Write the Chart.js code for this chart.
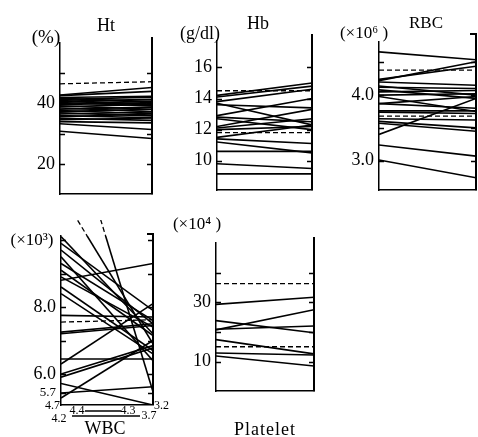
<!DOCTYPE html>
<html>
<head>
<meta charset="utf-8">
<script src="https://cdn.jsdelivr.net/npm/chart.js@4/dist/chart.umd.min.js"></script>
<style>
  body { margin: 0; background: #fff; }
  #fig { position: relative; width: 478px; height: 437px; overflow: hidden;
         font-family: "Liberation Serif", "DejaVu Serif", serif; color: #000; }
  canvas { position: absolute; }
  .t { position: absolute; transform: translate(-50%, -50%); white-space: nowrap; line-height: 1; }
</style>
</head>
<body>
<div id="fig">
  <canvas id="ht"></canvas>
  <canvas id="hb"></canvas>
  <canvas id="rbc"></canvas>
  <canvas id="wbc"></canvas>
  <canvas id="plt"></canvas>

  <div class="t" style="left:106px;top:25px;font-size:18px">Ht</div>
  <div class="t" style="left:46px;top:36px;font-size:19px">(%)</div>
  <div class="t" style="left:258px;top:23px;font-size:18px">Hb</div>
  <div class="t" style="left:200px;top:33px;font-size:18px">(g/dl)</div>
  <div class="t" style="left:426px;top:22px;font-size:17px">RBC</div>
  <div class="t" style="left:364px;top:32px;font-size:17px">(×10⁶ )</div>
  <div class="t" style="left:32px;top:239px;font-size:17px">(×10³)</div>
  <div class="t" style="left:197px;top:223px;font-size:17px">(×10⁴ )</div>
  <div class="t" style="left:105px;top:428px;font-size:18px">WBC</div>
  <div class="t" style="left:265px;top:429px;font-size:18px;letter-spacing:1px">Platelet</div>
</div>

<script>
// Ht (%) : before / after
const htBefore = [42.8, 42.6, 42.0, 41.7, 41.3, 41.0, 40.7, 40.3, 40.0, 39.6, 39.2, 38.9, 38.5,
                  38.1, 37.7, 37.3, 36.9, 36.5, 36.0, 35.6, 35.1, 34.6, 34.0, 33.3, 30.8];
const htAfter  = [45.3, 44.0, 42.4, 40.6, 42.1, 39.8, 41.4, 39.2, 40.8, 40.3, 38.1, 39.7, 37.3,
                  38.8, 36.6, 38.1, 35.9, 37.2, 35.3, 36.5, 34.4, 35.2, 33.6, 31.4, 28.4];
const htDashBefore = [46.5];
const htDashAfter  = [47.2];
const htTicks  = [20, 30, 40, 50];
const htLabels = [20, 40];

// Hb (g/dl)
const hbBefore = [14.2, 14.1, 13.8, 13.7, 13.6, 12.9, 12.8, 12.7, 12.2, 12.1, 12.0, 11.5, 11.4, 11.2, 10.6, 9.8, 9.15];
const hbAfter  = [15.0, 14.8, 14.6, 12.3, 13.4, 14.0, 12.5, 12.0, 13.3, 12.7, 12.2, 12.3, 11.1, 10.5, 10.6, 9.5, 9.15];
const hbDashBefore = [14.5, 11.8];
const hbDashAfter  = [14.5, 11.8];
const hbTicks  = [10, 12, 14, 16];
const hbLabels = [10, 12, 14, 16];

// RBC (x10^6)
const rbcBefore = [4.66, 4.22, 4.24, 4.20, 4.14, 4.12, 4.08, 4.05, 4.00, 3.98, 3.87, 3.87, 3.76, 3.74, 3.64, 3.60, 3.57, 3.40, 3.24, 3.01];
const rbcAfter  = [4.54, 4.51, 4.44, 4.15, 4.00, 4.10, 3.95, 4.07, 4.02, 3.75, 3.98, 3.80, 3.76, 3.72, 3.62, 3.50, 3.45, 3.95, 3.07, 2.74];
const rbcDashBefore = [4.38, 3.68];
const rbcDashAfter  = [4.38, 3.68];
const rbcTicks  = [3.0, 3.5, 4.0, 4.5];
const rbcLabels = [3.0, 4.0];

// WBC (x10^3)
const wbcBefore = [10.1, 9.9, 9.7, 9.3, 9.1, 8.9, 8.8, 8.6, 7.75, 7.25, 7.2, 6.45, 6.3, 6.0, 5.95, 5.85, 5.7, 4.7, 14.5, 11.4, 9.5, 8.4];
const wbcAfter  = [7.2, 7.9, 7.5, 7.6, 7.15, 7.4, 9.3, 6.7, 7.7, 7.5, 7.45, 6.45, 8.1, 6.85, 6.78, 3.2, 5.8, 7.0, 5.72, 6.9, 6.4, 6.6];
const wbcDashBefore = [7.55];
const wbcDashAfter  = [7.62];
const wbcBelowBefore = [4.4, 4.2];   // lines entirely below the broken scale
const wbcBelowAfter  = [4.3, 3.7];
const wbcTicks  = [5.7, 6, 7, 8, 9, 10];
const wbcLabels = [5.7, 6, 8];

// Platelet (x10^4)
const pltBefore = [29.3, 23.8, 20.7, 20.9, 17.4, 12.9, 11.9];
const pltAfter  = [31.7, 19.7, 27.5, 22.0, 12.6, 12.2, 8.5];
const pltDashBefore = [36.3, 15.0];
const pltDashAfter  = [36.3, 15.0];
const pltTicks  = [10, 20, 30, 40];
const pltLabels = [10, 30];

// WBC axis is broken below 6.0: 5.7 is stretched, lower values squeezed to the bottom
function wbcT(v) {
  if (v >= 6) return v;
  if (v >= 5.7) return 6 - (6 - v) * 1.89;
  return Math.max(5.075, 5.433 - (5.7 - v) * 0.151);
}
class WbcScale extends Chart.LinearScale {
  getPixelForValue(v) { return super.getPixelForValue(wbcT(v)); }
}
WbcScale.id = 'wbc';
WbcScale.defaults = Chart.LinearScale.defaults;
Chart.register(WbcScale);

const LABEL_W = 45, PAD_TOP = 20;

function extrasPlugin(p) {
  return {
    id: 'extras_' + p.id,
    afterDraw(chart) {
      const { ctx, chartArea: a, scales: { y } } = chart;
      ctx.save();
      ctx.strokeStyle = '#000';
      ctx.fillStyle = '#000';
      // right axis, a bit taller than the left one
      ctx.lineWidth = 2;
      ctx.beginPath();
      ctx.moveTo(a.right, a.bottom);
      ctx.lineTo(a.right, a.top - p.ext);
      if (p.hook) ctx.lineTo(a.right - 6, a.top - p.ext);
      ctx.stroke();
      // inward tick marks on both axes
      ctx.lineWidth = 1.3;
      y.ticks.forEach(t => {
        const py = Math.round(y.getPixelForValue(t.value)) + 0.5;
        ctx.beginPath();
        ctx.moveTo(a.left, py); ctx.lineTo(a.left + 5, py);
        ctx.moveTo(a.right, py); ctx.lineTo(a.right - 5, py);
        ctx.stroke();
      });
      if (p.id === 'wbc') {
        ctx.font = '12px "Liberation Serif", serif';
        ctx.textBaseline = 'middle';
        // values of lines that run off the bottom of the scale
        wbcBefore.forEach((v, i) => {
          if (v < 5.7) { ctx.textAlign = 'right'; ctx.fillText(v.toFixed(1), a.left - 1, a.bottom + 1); }
          if (wbcAfter[i] < 5.7) { ctx.textAlign = 'left'; ctx.fillText(wbcAfter[i].toFixed(1), a.right + 1, a.bottom + 1); }
        });
        // lines entirely below the scale, drawn as labelled rows
        const rows = [
          { dy: 6, x0: 24, x1: 60, lx: 16, ly: 6, rx: 67, ry: 6 },
          { dy: 11, x0: 11, x1: 79, lx: -2, ly: 14, rx: 88, ry: 11 }
        ];
        ctx.lineWidth = 1.3;
        ctx.textAlign = 'center';
        wbcBelowBefore.forEach((v, i) => {
          const r = rows[i];
          ctx.beginPath();
          ctx.moveTo(a.left + r.x0, a.bottom + r.dy);
          ctx.lineTo(a.left + r.x1, a.bottom + r.dy);
          ctx.stroke();
          ctx.fillText(v.toFixed(1), a.left + r.lx, a.bottom + r.ly);
          ctx.fillText(wbcBelowAfter[i].toFixed(1), a.left + r.rx, a.bottom + r.ry);
        });
      }
      ctx.restore();
    }
  };
}

function lineSet(b, a, dash, extra) {
  return Object.assign({
    data: [{ x: 0, y: b }, { x: 1, y: a }],
    borderColor: '#000',
    borderWidth: dash ? 1.3 : 1.6,
    borderDash: dash ? [5, 3] : [],
    pointRadius: 0,
    fill: false
  }, extra || {});
}

function makePanel(p) {
  const cv = document.getElementById(p.id);
  const w = p.R - p.L + LABEL_W + p.padR;
  const h = p.B - p.T + PAD_TOP + p.padB;
  cv.width = w; cv.height = h;
  cv.style.left = (p.L - LABEL_W) + 'px';
  cv.style.top = (p.T - PAD_TOP) + 'px';
  cv.style.width = w + 'px'; cv.style.height = h + 'px';

  const datasets = [];
  p.dashB.forEach((v, i) => datasets.push(lineSet(v, p.dashA[i], true)));
  p.before.forEach((v, i) => {
    datasets.push(lineSet(v, p.after[i], false));
    // part above the top of the axis is shown dashed
    if (p.id === 'wbc' && (v > p.max || p.after[i] > p.max)) {
      datasets.push(lineSet(v, p.after[i], true,
        { clip: { left: 0, right: 0, top: 16, bottom: -(p.B - p.T) } }));
    }
  });

  new Chart(cv, {
    type: 'line',
    data: { datasets },
    options: {
      responsive: false,
      animation: false,
      events: [],
      layout: { padding: { left: 0, top: PAD_TOP, right: p.padR, bottom: p.padB } },
      plugins: { legend: { display: false }, tooltip: { enabled: false } },
      scales: {
        x: {
          type: 'linear', min: 0, max: 1,
          grid: { display: false, drawTicks: false },
          ticks: { display: false },
          border: { display: true, color: '#000', width: 1.5 },
          afterFit: s => { s.height = 0; }
        },
        y: {
          type: p.id === 'wbc' ? 'wbc' : 'linear',
          min: p.min, max: p.max,
          grid: { display: false, drawTicks: false },
          border: { display: true, color: '#000', width: 1.5 },
          afterBuildTicks: s => { s.ticks = p.ticks.map(v => ({ value: v })); },
          afterFit: s => { s.width = LABEL_W; },
          ticks: {
            autoSkip: false,
            padding: 5,
            color: '#000',
            font: c => ({ family: '"Liberation Serif", serif', size: (c.tick && c.tick.value === 5.7) ? 13 : 18 }),
            callback: v => p.labels.includes(v) ? v.toFixed(p.digits) : ''
          }
        }
      }
    },
    plugins: [extrasPlugin(p)]
  });
}

const panels = [
  { id: 'ht',  L: 60,  R: 152, T: 43,  B: 206, min: 10,    max: 60,    padR: 4,  padB: 4,
    ticks: htTicks, labels: htLabels, digits: 0, before: htBefore, after: htAfter,
    dashB: htDashBefore, dashA: htDashAfter, ext: 6, hook: false },
  { id: 'hb',  L: 217, R: 312, T: 41,  B: 202, min: 8.1,   max: 17.7,  padR: 4,  padB: 4,
    ticks: hbTicks, labels: hbLabels, digits: 0, before: hbBefore, after: hbAfter,
    dashB: hbDashBefore, dashA: hbDashAfter, ext: 7, hook: false },
  { id: 'rbc', L: 379, R: 476, T: 42,  B: 202, min: 2.55,  max: 4.81,  padR: 2,  padB: 4,
    ticks: rbcTicks, labels: rbcLabels, digits: 1, before: rbcBefore, after: rbcAfter,
    dashB: rbcDashBefore, dashA: rbcDashAfter, ext: 8, hook: true },
  { id: 'wbc', L: 61,  R: 153, T: 236, B: 405, min: 5.075, max: 10.12, padR: 20, padB: 18,
    ticks: wbcTicks, labels: wbcLabels, digits: 1, before: wbcBefore, after: wbcAfter,
    dashB: wbcDashBefore, dashA: wbcDashAfter, ext: 2, hook: true },
  { id: 'plt', L: 216, R: 314, T: 243, B: 403, min: 0,     max: 50,    padR: 4,  padB: 4,
    ticks: pltTicks, labels: pltLabels, digits: 0, before: pltBefore, after: pltAfter,
    dashB: pltDashBefore, dashA: pltDashAfter, ext: 6, hook: false }
];

panels.forEach(makePanel);
</script>
</body>
</html>
